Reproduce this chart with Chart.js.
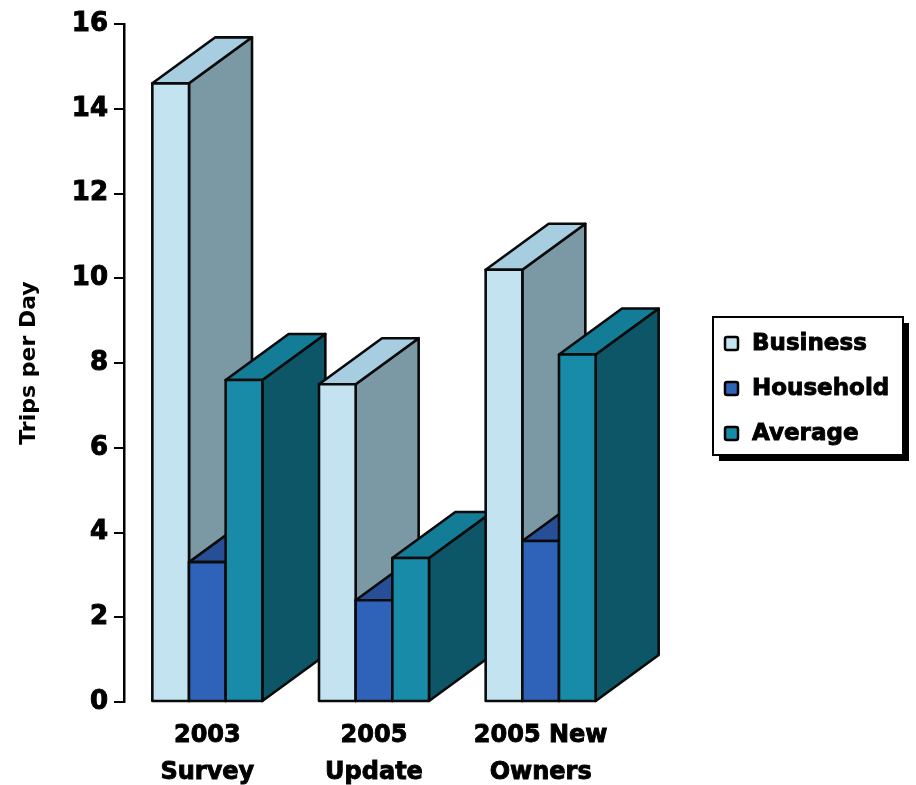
<!DOCTYPE html>
<html>
<head>
<meta charset="utf-8">
<title>Trips per Day</title>
<script src="https://cdn.jsdelivr.net/npm/chart.js@4/dist/chart.umd.min.js"></script>
<style>
  html, body { margin: 0; padding: 0; background: #ffffff; }
  #wrap { width: 916px; height: 785px; }
</style>
</head>
<body>
<div id="wrap"><canvas id="chart" width="916" height="785"></canvas></div>
<script>
// Survey groups along the x axis (two-line labels)
const categories = [['2003', 'Survey'], ['2005', 'Update'], ['2005 New', 'Owners']];

// Trips per day by series
const seriesNames = ['Business', 'Household', 'Average'];
const business = [14.6, 7.5, 10.2];
const household = [3.3, 2.4, 3.8];
const average = [7.6, 3.4, 8.2];

// Y axis ticks
const yTicks = [0, 2, 4, 6, 8, 10, 12, 14, 16];

// Face colours for each series: front, top, side
const faces = [
  { front: '#c3e3f0', top: '#a6cee0', side: '#7b98a5' },
  { front: '#2f63b9', top: '#264f97', side: '#1d3f7a' },
  { front: '#178ba7', top: '#137c96', side: '#0c5667' }
];

const FONT = '"DejaVu Sans", "Liberation Sans", Arial, sans-serif';
const DEPTH_X = 63, DEPTH_Y = -46;

function poly(ctx, pts, fill) {
  ctx.beginPath();
  ctx.moveTo(pts[0][0], pts[0][1]);
  for (let k = 1; k < pts.length; k++) ctx.lineTo(pts[k][0], pts[k][1]);
  ctx.closePath();
  ctx.fillStyle = fill;
  ctx.fill();
  ctx.stroke();
}

// Draws every bar as a box with a top and right side, group by group from left to right
const boxBars = {
  id: 'boxBars',
  beforeDatasetsDraw(chart) {
    const ctx = chart.ctx;
    const metas = chart.data.datasets.map((d, i) => chart.getDatasetMeta(i));
    const n = chart.data.labels.length;
    ctx.save();
    ctx.lineWidth = 2.6;
    ctx.lineJoin = 'round';
    ctx.strokeStyle = '#0a0a0a';
    for (let j = 0; j < n; j++) {
      for (let i = 0; i < metas.length; i++) {
        const el = metas[i].data[j];
        if (!el) continue;
        const p = el.getProps(['x', 'y', 'base', 'width'], true);
        const l = p.x - p.width / 2, r = p.x + p.width / 2;
        const t = p.y, b = p.base;
        const f = faces[i];
        poly(ctx, [[r, t], [r + DEPTH_X, t + DEPTH_Y], [r + DEPTH_X, b + DEPTH_Y], [r, b]], f.side);
        poly(ctx, [[l, t], [r, t], [r + DEPTH_X, t + DEPTH_Y], [l + DEPTH_X, t + DEPTH_Y]], f.top);
        poly(ctx, [[l, t], [r, t], [r, b], [l, b]], f.front);
      }
    }
    ctx.restore();
    return false;
  }
};

// Boxed legend with a drop shadow, to the right of the plot
const boxLegend = {
  id: 'boxLegend',
  afterDraw(chart) {
    const ctx = chart.ctx;
    const bx = 713, by = 317, bw = 190, bh = 138;
    ctx.save();
    ctx.fillStyle = '#000000';
    ctx.fillRect(bx + 6, by + 6, bw, bh);
    ctx.fillStyle = '#ffffff';
    ctx.fillRect(bx, by, bw, bh);
    ctx.lineWidth = 2;
    ctx.strokeStyle = '#000000';
    ctx.strokeRect(bx, by, bw, bh);
    ctx.font = 'bold 23px ' + FONT;
    ctx.textBaseline = 'middle';
    ctx.textAlign = 'left';
    chart.data.datasets.forEach((ds, i) => {
      const cy = by + 27 + i * 45;
      ctx.fillStyle = ds.backgroundColor;
      ctx.lineWidth = 2.5;
      ctx.beginPath();
      ctx.roundRect(bx + 12, cy - 7, 13, 13, 2);
      ctx.fill();
      ctx.stroke();
      ctx.fillStyle = '#000000';
      ctx.lineWidth = 0.9;
      ctx.strokeText(ds.label, bx + 39, cy);
      ctx.fillText(ds.label, bx + 39, cy);
    });
    ctx.restore();
  }
};

new Chart(document.getElementById('chart'), {
  type: 'bar',
  data: {
    labels: categories,
    datasets: [
      { label: seriesNames[0], data: business, backgroundColor: faces[0].front },
      { label: seriesNames[1], data: household, backgroundColor: faces[1].front },
      { label: seriesNames[2], data: average, backgroundColor: faces[2].front }
    ]
  },
  options: {
    responsive: false,
    animation: false,
    layout: { padding: { top: 24, right: 292, bottom: 0, left: 0 } },
    datasets: { bar: { barPercentage: 1, categoryPercentage: 0.66 } },
    plugins: { legend: { display: false }, tooltip: { enabled: false } },
    scales: {
      x: {
        grid: { display: false },
        border: { display: false },
        ticks: {
          color: '#000000',
          padding: 7,
          textStrokeColor: '#000000',
          textStrokeWidth: 0.9,
          font: { family: FONT, size: 24, weight: 'bold', lineHeight: 1.55 },
          maxRotation: 0
        },
        afterFit(scale) { scale.height = 83; }
      },
      y: {
        min: 0,
        max: 16,
        afterBuildTicks(scale) { scale.ticks = yTicks.map(v => ({ value: v })); },
        grid: { drawOnChartArea: false, drawTicks: true, tickLength: 10, color: '#000000', lineWidth: 2 },
        border: { display: true, color: '#000000', width: 2.5 },
        ticks: {
          color: '#000000',
          padding: 6,
          textStrokeColor: '#000000',
          textStrokeWidth: 1,
          font: { family: FONT, size: 26, weight: 'bold' }
        },
        title: {
          display: true,
          text: 'Trips per Day',
          color: '#000000',
          padding: { top: 16, bottom: 0 },
          font: { family: FONT, size: 22, weight: 'bold' }
        },
        afterFit(scale) { scale.width = 124; }
      }
    }
  },
  plugins: [boxBars, boxLegend]
});
</script>
</body>
</html>
